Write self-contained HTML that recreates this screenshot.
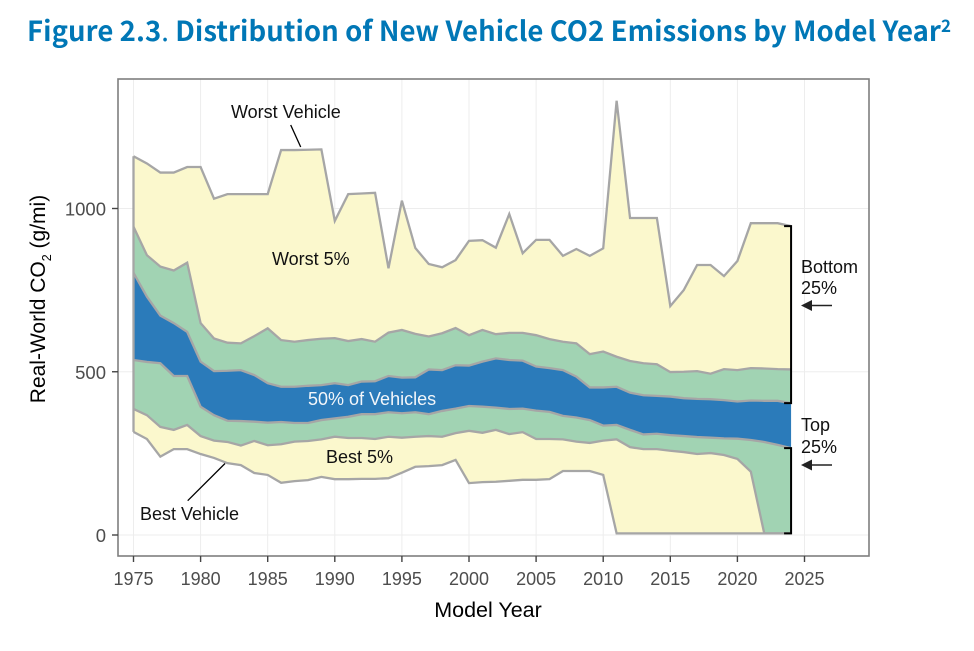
<!DOCTYPE html>
<html lang="en">
<head>
<meta charset="utf-8">
<title>Figure 2.3 Distribution of New Vehicle CO2 Emissions by Model Year</title>
<style>
html,body{margin:0;padding:0;background:#fff;width:974px;height:651px;overflow:hidden}
svg{display:block;font-family:"Liberation Sans",sans-serif}
</style>
</head>
<body>
<svg id="chart" width="974" height="651" viewBox="0 0 974 651" xmlns="http://www.w3.org/2000/svg">
  <text x="27" y="41" font-size="27.5" font-weight="700" fill="#0077b6" textLength="924" lengthAdjust="spacing" style='font-family:"Noto Sans CJK SC","Liberation Sans",sans-serif'>Figure 2.3<tspan font-weight="400">.</tspan> Distribution of New Vehicle CO2 Emissions by Model Year<tspan font-size="17" dy="-9">2</tspan></text>
  <g id="plot"></g>
  <text x="488" y="617" font-size="21.5" text-anchor="middle" fill="#000">Model Year</text>
  <text transform="translate(45,299) rotate(-90)" font-size="21" text-anchor="middle" fill="#000">Real-World CO<tspan font-size="12.5" dy="6">2</tspan><tspan dy="-6"> (g/mi)</tspan></text>
</svg>
<script>
const years = [1975,1976,1977,1978,1979,1980,1981,1982,1983,1984,1985,1986,1987,1988,1989,1990,1991,1992,1993,1994,1995,1996,1997,1998,1999,2000,2001,2002,2003,2004,2005,2006,2007,2008,2009,2010,2011,2012,2013,2014,2015,2016,2017,2018,2019,2020,2021,2022,2023,2024];
const worstVehicle = [1160,1138,1110,1110,1127,1127,1030,1044,1044,1044,1044,1179,1179,1180,1181,962,1044,1046,1048,817,1024,879,830,820,842,901,903,880,983,863,904,904,855,876,855,878,1330,971,971,971,701,750,827,827,793,839,955,955,955,946];
const p95 = [944,857,822,810,834,649,602,589,587,609,633,597,592,597,601,603,594,600,592,620,628,616,608,618,634,612,628,615,619,619,612,600,592,587,554,562,546,533,526,523,499,500,502,494,508,505,511,510,508,507];
const p75 = [803,730,672,649,622,531,502,503,505,490,465,454,454,457,459,465,459,470,471,487,482,483,507,505,520,519,531,541,536,534,516,511,505,485,452,452,454,436,428,426,424,419,417,416,413,409,412,411,411,404];
const p25 = [536,530,526,487,487,393,367,350,349,347,344,346,343,343,352,357,362,370,370,376,373,376,370,380,387,395,393,390,386,387,381,377,365,360,352,335,337,322,308,310,306,303,300,298,296,295,291,285,276,266];
const p5 = [386,367,331,322,337,303,289,285,274,288,275,278,286,288,293,301,297,297,294,301,298,301,303,301,312,319,313,322,309,315,294,294,293,286,282,289,293,269,263,263,258,254,248,251,245,233,194,5,5,5];
const bestVehicle = [316,294,240,263,263,248,236,220,214,190,184,160,165,168,178,171,171,172,172,174,191,209,211,214,230,159,162,163,166,169,169,171,196,196,196,184,5,5,5,5,5,5,5,5,5,5,5,5,5,5];
const xTicks = [1975,1980,1985,1990,1995,2000,2005,2010,2015,2020,2025];
const yTicks = [0,500,1000];

const NS = 'http://www.w3.org/2000/svg';
const plot = document.getElementById('plot');
const x = v => 133.5 + (v - 1975) * 13.42;
const y = v => 535 - v * 0.3265;
const last = a => a[a.length - 1];

function make(tag, attrs, parent) {
  const el = document.createElementNS(NS, tag);
  for (const k in attrs) el.setAttribute(k, attrs[k]);
  (parent || plot).appendChild(el);
  return el;
}
function linePts(vals) {
  return vals.map((v, i) => x(years[i]).toFixed(2) + ',' + y(v).toFixed(2)).join(' ');
}
function bandPts(upper, lower) {
  const up = upper.map((v, i) => x(years[i]).toFixed(2) + ',' + y(v).toFixed(2));
  const low = lower.map((v, i) => x(years[i]).toFixed(2) + ',' + y(v).toFixed(2)).reverse();
  return up.concat(low).join(' ');
}

const L = 118, T = 79, R = 869, B = 556;

// gridlines
xTicks.forEach(t => {
  const g = make('line', {x1:x(t), x2:x(t), y1:T, y2:B, stroke:'#ededed', 'stroke-width':1});
  
  
});
yTicks.forEach(t => {
  const g = make('line', {x1:L, x2:R, y1:y(t), y2:y(t), stroke:'#ededed', 'stroke-width':1});
  
  
});

// bands
const bandWorst = make('polygon', {points:bandPts(worstVehicle, p95), fill:'#fbf8cd'});


const bandUpper = make('polygon', {points:bandPts(p95, p75), fill:'#a1d3b3'});


const bandMid = make('polygon', {points:bandPts(p75, p25), fill:'#2b7bba'});


const bandLower = make('polygon', {points:bandPts(p25, p5), fill:'#a1d3b3'});


const bandBest = make('polygon', {points:bandPts(p5, bestVehicle), fill:'#fbf8cd'});



// series lines
const lineStyle = {fill:'none', stroke:'#a6a6a6', 'stroke-width':2.3, 'stroke-linejoin':'miter'};
const lineWorst = make('polyline', Object.assign({points:linePts(worstVehicle)}, lineStyle));


const line95 = make('polyline', Object.assign({points:linePts(p95)}, lineStyle));


const line75 = make('polyline', Object.assign({points:linePts(p75)}, lineStyle));


const line25 = make('polyline', Object.assign({points:linePts(p25)}, lineStyle));


const line5 = make('polyline', Object.assign({points:linePts(p5)}, lineStyle));


const lineBest = make('polyline', Object.assign({points:linePts(bestVehicle)}, lineStyle));


const leftEdge = make('line', {x1:x(years[0]), x2:x(years[0]), y1:y(worstVehicle[0]), y2:y(bestVehicle[0]), stroke:'#a6a6a6', 'stroke-width':2.3});



// panel border
const panel = make('rect', {x:L, y:T, width:R-L, height:B-T, fill:'none', stroke:'#7f7f7f', 'stroke-width':1.6});



// ticks and tick labels
xTicks.forEach(t => {
  const tk = make('line', {x1:x(t), x2:x(t), y1:B, y2:B+6, stroke:'#444', 'stroke-width':1.4});
  
  
  const lb = make('text', {x:x(t), y:585, 'font-size':18, 'text-anchor':'middle', fill:'#4d4d4d'});
  
  
  lb.textContent = t;
});
yTicks.forEach(t => {
  const tk = make('line', {x1:L-6, x2:L, y1:y(t), y2:y(t), stroke:'#444', 'stroke-width':1.4});
  
  
  const lb = make('text', {x:106, y:y(t)+7, 'font-size':18.5, 'text-anchor':'end', fill:'#4d4d4d'});
  
  
  lb.textContent = t;
});

// brackets
const bx = x(last(years));
const bracketBottom = make('path', {d:'M'+(bx-7)+' '+y(last(worstVehicle))+'H'+bx+'V'+y(last(p75))+'H'+(bx-7), fill:'none', stroke:'#000', 'stroke-width':2});


const bracketTop = make('path', {d:'M'+(bx-7)+' '+y(last(p25))+'H'+bx+'V'+y(last(bestVehicle))+'H'+(bx-7), fill:'none', stroke:'#000', 'stroke-width':2});



// arrows
const arrow1 = make('path', {d:'M801 305.5L812 300V304.7H832V306.3H812V311Z', fill:'#222'});


const arrow2 = make('path', {d:'M801 465L812 459.5V464.2H832V465.8H812V470.5Z', fill:'#222'});



// leader lines
const leaderWorst = make('line', {x1:290.7, y1:125, x2:300.7, y2:147, stroke:'#000', 'stroke-width':1.3});


const leaderBest = make('line', {x1:225, y1:463.5, x2:187.7, y2:500.7, stroke:'#000', 'stroke-width':1.3});



// annotations
function note(name, str, px, py, fill) {
  const t = make('text', {x:px, y:py, 'font-size':18, fill:fill || '#111'});
  
  
  t.textContent = str;
}
note('worst-vehicle-label', 'Worst Vehicle', 231, 118);
note('worst-5-label', 'Worst 5%', 272, 265);
note('middle-50-label', '50% of Vehicles', 308, 405, '#f2f6fa');
note('best-5-label', 'Best 5%', 326, 463);
note('best-vehicle-label', 'Best Vehicle', 140, 520);
note('bottom-label', 'Bottom', 801, 273);
note('bottom-25-label', '25%', 801, 294);
note('top-label', 'Top', 801, 431);
note('top-25-label', '25%', 801, 453);
</script>
</body>
</html>
